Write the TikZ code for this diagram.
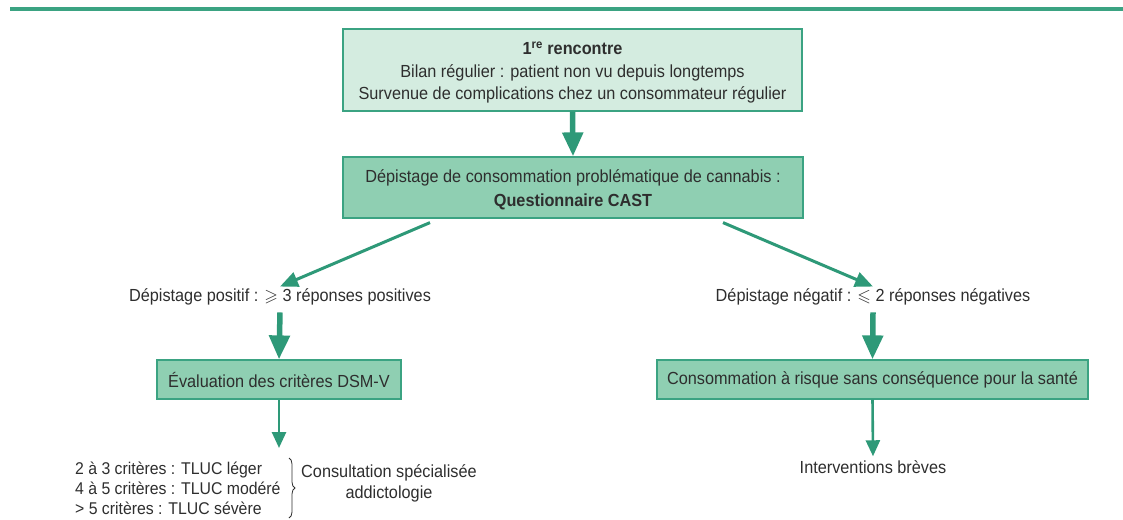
\documentclass[tikz,border=0pt]{standalone}
\usepackage{amssymb}
\usepackage{fontspec}
\setmainfont{Liberation Sans}[FakeStretch=0.93]
\usetikzlibrary{arrows.meta,calc,decorations.pathreplacing}
\usetikzlibrary{positioning}

\begin{document}
\begin{tikzpicture}[x=1pt,y=-1pt,
	box/.style={draw=castline,line width=1.2pt,align=center,text=casttext,font=\fontsize{17.5}{22.5}\selectfont,inner sep=0pt},
	lbl/.style={align=center,text=casttext,font=\fontsize{17.5}{21}\selectfont,inner sep=2pt},
	bigarrow/.style={draw=castarrow,line width=5.5pt,-{Triangle[width=20pt,length=24pt]}},
	thinarrow/.style={draw=castarrow,line width=2.6pt,-{Triangle[width=14pt,length=16pt]}},
	diagarrow/.style={draw=castarrow,line width=3pt,-{Triangle[width=15pt,length=18pt]}}]

	\definecolor{castline}{rgb}{0.23,0.64,0.51}
	\definecolor{castarrow}{rgb}{0.18,0.60,0.47}
	\definecolor{castlight}{rgb}{0.83,0.925,0.88}
	\definecolor{castmid}{rgb}{0.56,0.81,0.70}
	\definecolor{casttext}{rgb}{0.18,0.18,0.18}

	\useasboundingbox (0,0) rectangle (1123,519);
	\draw[castline,line width=4pt] (10,9.5) -- (1123,9.5);

	\node(meet) [box,fill=castlight,minimum width=459pt,minimum height=82pt] at (572.5,70)
		{\rule{0pt}{18pt}\textbf{1\textsuperscript{re} rencontre}\\Bilan régulier : patient non vu depuis longtemps\\Survenue de complications chez un consommateur régulier};
	\node(cast) [box,fill=castmid,minimum width=460pt,minimum height=61pt,font=\fontsize{17.5}{24}\selectfont] at (573,187.5)
		{\rule{0pt}{17pt}Dépistage de consommation problématique de cannabis :\\\textbf{Questionnaire CAST}};

	\node(pos) [lbl] at (280,297) {Dépistage positif : $\geqslant$ 3 réponses positives};
	\node(neg) [lbl] at (873,297) {Dépistage négatif : $\leqslant$ 2 réponses négatives};

	\node(dsm) [box,fill=castmid,minimum width=244pt,minimum height=39pt] at (279,379.5) {Évaluation des critères DSM-V};
	\node(risk) [box,fill=castmid,minimum width=431pt,minimum height=39pt] at (872.5,379.5) {Consommation à risque sans conséquence pour la santé};

	\node(crit) [lbl,align=left,anchor=west,font=\fontsize{17}{20}\selectfont] at (73,488)
		{2 à 3 critères : TLUC léger\\4 à 5 critères : TLUC modéré\\> 5 critères : TLUC sévère};
	\node(spec) [lbl] at (389,483) {Consultation spécialisée\\addictologie};
	\node(brief) [lbl] at (873,467) {Interventions brèves};
	\coordinate(crittop) at (279,448);

	\draw[bigarrow] (meet.south) -- (cast.north);
	\draw[diagarrow] ([xshift=-143pt,yshift=-4pt]cast.south) -- (pos.north);
	\draw[diagarrow] ([xshift=150pt,yshift=-4pt]cast.south) -- (neg.north);
	\draw[bigarrow] ([yshift=-5pt]pos.south) -- (dsm.north);
	\draw[bigarrow] ([yshift=-5pt]neg.south) -- (risk.north);
	\draw[thinarrow] (dsm.south) -- (crittop);
	\draw[thinarrow] (risk.south) -- ([yshift=2pt]brief.north);
	\draw[casttext,line width=0.8pt,decorate,decoration={brace,amplitude=6pt}] (289,458) -- (289,518);

\end{tikzpicture}
\end{document}
